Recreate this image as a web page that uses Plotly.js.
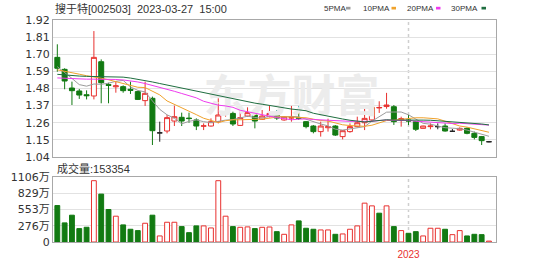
<!DOCTYPE html>
<html>
<head>
<meta charset="utf-8">
<script src="https://cdn.plot.ly/plotly-3.0.1.min.js"></script>
<style>
html,body{margin:0;padding:0;background:#fff;}
#chart{width:549px;height:262px;}
</style>
</head>
<body>
<div id="chart"></div>
<script>
// ---- data (weekly bars) ----
var weekDates = [
 '2022-01-17','2022-01-24','2022-02-07','2022-02-14','2022-02-21','2022-02-28','2022-03-07','2022-03-14','2022-03-21','2022-03-28',
 '2022-04-06','2022-04-11','2022-04-18','2022-04-25','2022-05-05','2022-05-09','2022-05-16','2022-05-23','2022-05-30','2022-06-06',
 '2022-06-13','2022-06-20','2022-06-27','2022-07-04','2022-07-11','2022-07-18','2022-07-25','2022-08-01','2022-08-08','2022-08-15',
 '2022-08-22','2022-08-29','2022-09-05','2022-09-13','2022-09-19','2022-09-26','2022-10-10','2022-10-17','2022-10-24','2022-10-31',
 '2022-11-07','2022-11-14','2022-11-21','2022-11-28','2022-12-05','2022-12-12','2022-12-19','2022-12-26','2023-01-03','2023-01-09',
 '2023-01-16','2023-01-30','2023-02-06','2023-02-13','2023-02-20','2023-02-27','2023-03-06','2023-03-13','2023-03-20','2023-03-27'
];
var openP = [
 1.680,1.603,1.483,1.464,1.440,1.432,1.652,1.505,1.491,1.492,
 1.475,1.460,1.402,1.417,1.195,1.207,1.271,1.295,1.290,1.278,
 1.238,1.239,1.267,1.325,1.320,1.243,1.303,1.310,1.282,1.299,
 1.310,1.278,1.290,1.293,1.267,1.239,1.203,1.228,1.239,1.171,
 1.203,1.235,1.260,1.278,1.355,1.364,1.363,1.278,1.278,1.267,
 1.224,1.235,1.235,1.239,1.205,1.213,1.224,1.192,1.171,1.138
];
var highP = [
 1.764,1.610,1.524,1.477,1.468,1.849,1.667,1.517,1.524,1.500,
 1.524,1.466,1.524,1.428,1.267,1.310,1.370,1.325,1.325,1.288,
 1.256,1.288,1.417,1.374,1.331,1.342,1.359,1.320,1.342,1.368,
 1.342,1.303,1.368,1.368,1.271,1.245,1.267,1.286,1.245,1.213,
 1.256,1.299,1.352,1.406,1.398,1.452,1.374,1.299,1.310,1.271,
 1.241,1.256,1.256,1.256,1.220,1.230,1.230,1.203,1.175,1.143
];
var lowP = [
 1.588,1.475,1.374,1.413,1.410,1.410,1.385,1.385,1.453,1.453,
 1.445,1.406,1.368,1.117,1.138,1.192,1.239,1.239,1.260,1.213,
 1.213,1.235,1.256,1.299,1.239,1.239,1.299,1.224,1.278,1.295,
 1.278,1.273,1.267,1.278,1.224,1.192,1.171,1.203,1.175,1.153,
 1.196,1.230,1.213,1.267,1.323,1.350,1.246,1.235,1.245,1.207,
 1.222,1.218,1.218,1.203,1.203,1.209,1.186,1.153,1.117,1.134
];
var closeP = [
 1.610,1.528,1.466,1.438,1.434,1.680,1.517,1.500,1.497,1.466,
 1.468,1.410,1.449,1.209,1.195,1.293,1.299,1.271,1.287,1.239,
 1.240,1.267,1.310,1.331,1.252,1.293,1.325,1.271,1.303,1.320,
 1.290,1.299,1.293,1.289,1.235,1.203,1.239,1.235,1.181,1.209,
 1.235,1.260,1.288,1.359,1.358,1.374,1.267,1.286,1.271,1.218,
 1.239,1.239,1.235,1.207,1.205,1.224,1.192,1.166,1.145,1.138
];
var ma5 = [
 1.620,1.585,1.545,1.505,1.495,1.509,1.507,1.514,1.526,1.532,
 1.490,1.468,1.458,1.400,1.346,1.311,1.289,1.253,1.269,1.278,
 1.267,1.261,1.269,1.277,1.280,1.291,1.302,1.294,1.289,1.302,
 1.302,1.297,1.301,1.298,1.281,1.264,1.252,1.240,1.219,1.213,
 1.220,1.224,1.235,1.270,1.300,1.328,1.329,1.329,1.311,1.283,
 1.256,1.251,1.240,1.228,1.225,1.222,1.213,1.199,1.186,1.173
];
var ma10 = [
 1.600,1.592,1.582,1.572,1.562,1.556,1.546,1.536,1.525,1.514,
 1.499,1.488,1.486,1.463,1.439,1.400,1.379,1.356,1.335,1.312,
 1.289,1.275,1.261,1.273,1.279,1.279,1.282,1.282,1.283,1.291,
 1.296,1.299,1.298,1.294,1.292,1.283,1.274,1.271,1.258,1.247,
 1.242,1.238,1.237,1.244,1.257,1.274,1.277,1.282,1.291,1.292,
 1.292,1.290,1.285,1.270,1.254,1.239,1.232,1.220,1.207,1.199
];
var ma20 = [
 1.548,1.545,1.542,1.541,1.540,1.540,1.540,1.540,1.538,1.535,
 1.530,1.522,1.512,1.500,1.490,1.476,1.462,1.448,1.434,1.420,
 1.398,1.383,1.373,1.368,1.359,1.340,1.330,1.319,1.309,1.302,
 1.293,1.287,1.279,1.283,1.285,1.281,1.278,1.276,1.271,1.269,
 1.269,1.269,1.268,1.269,1.274,1.278,1.275,1.276,1.275,1.270,
 1.267,1.264,1.261,1.257,1.255,1.257,1.254,1.251,1.249,1.245
];
var ma30 = [
 1.571,1.566,1.562,1.560,1.558,1.557,1.556,1.556,1.555,1.553,
 1.547,1.540,1.532,1.522,1.512,1.502,1.493,1.485,1.475,1.463,
 1.455,1.445,1.436,1.425,1.416,1.405,1.396,1.386,1.379,1.371,
 1.362,1.354,1.348,1.343,1.337,1.321,1.311,1.303,1.292,1.284,
 1.276,1.271,1.265,1.270,1.276,1.279,1.277,1.278,1.277,1.277,
 1.277,1.276,1.273,1.269,1.268,1.265,1.261,1.257,1.252,1.246
];
// volume in 万
var volume = [
 620,325,456,228,251,1043,815,553,439,291,
 217,194,319,456,103,336,336,262,159,274,
 274,239,1043,439,262,250,257,228,250,255,
 176,131,291,359,234,217,205,205,131,137,
 217,274,661,615,490,615,262,194,148,176,
 103,234,234,217,125,194,103,131,125,15.3354
];
// 1 = rising (red hollow), 0 = falling (green)
var volumeUp = [
 0,0,0,0,0,1,0,0,1,0,
 0,0,1,0,1,1,1,0,0,0,
 1,1,1,1,0,1,1,0,1,1,
 0,1,1,0,0,0,1,1,0,1,
 1,1,1,1,0,1,0,1,0,0,
 1,1,1,0,1,1,0,0,0,1
];
var priceTicks = [1.04,1.15,1.26,1.37,1.48,1.59,1.70,1.81,1.92];
var volTickVals = [0,276.5,553,829.5,1106];
var volTickText = ['0','276万','553万','829万','1106万'];
var titleText = '搜于特[002503]\u00a0\u00a02023-03-27\u00a0\u00a015:00';
var volLabel = '成交量:153354';
var yearLabel = '2023';
var yearStart = '2023-01-03';
var maNames = ['5PMA','10PMA','20PMA','30PMA'];
var watermarkText = '东方财富';

// ---- styling ----
var RED = '#e8312f', GREEN = '#127a12', BLACK = '#222222';
var maColors = ['#9c9c9c','#f0a22c','#ee3cee','#1f6e40'];
var BORDER = '#a8a8a8', GRID = '#e2e2e2';

function pick(arr, idx){ return idx.map(function(i){return arr[i];}); }
var idx = weekDates.map(function(d,i){return i;});
var upIdx = idx.filter(function(i){return closeP[i] > openP[i];});
var dnIdx = idx.filter(function(i){return closeP[i] < openP[i];});
var flatIdx = idx.filter(function(i){return closeP[i] === openP[i];});

function candle(ids, incColor, incFill, decColor, decFill){
  return {
    type:'candlestick', x:pick(weekDates,ids), open:pick(openP,ids), high:pick(highP,ids),
    low:pick(lowP,ids), close:pick(closeP,ids), xaxis:'x', yaxis:'y',
    increasing:{line:{color:incColor,width:1}, fillcolor:incFill},
    decreasing:{line:{color:decColor,width:1}, fillcolor:decFill},
    whiskerwidth:0, hoverinfo:'skip', showlegend:false
  };
}

var traces = [];
// watermark (drawn beneath MA lines)
traces.push({type:'scatter', mode:'text', x:[weekDates[32]], y:[1.40], text:[watermarkText],
  textfont:{family:'Noto Sans CJK SC', size:44, color:'#ececec', weight:700},
  xaxis:'x', yaxis:'y', hoverinfo:'skip', showlegend:false, cliponaxis:false});
traces.push(candle(upIdx, RED, '#ffffff', RED, '#ffffff'));
traces.push(candle(dnIdx, GREEN, GREEN, GREEN, GREEN));
traces.push(candle(flatIdx, BLACK, BLACK, BLACK, BLACK));
[ma5, ma10, ma20, ma30].forEach(function(m,k){
  traces.push({type:'scatter', mode:'lines', x:weekDates, y:m, xaxis:'x', yaxis:'y',
    line:{color:maColors[k], width:1}, hoverinfo:'skip', showlegend:false, name:maNames[k]});
});
var vUp = idx.filter(function(i){return volumeUp[i]===1;});
var vDn = idx.filter(function(i){return volumeUp[i]===0;});
traces.push({type:'bar', x:pick(weekDates,vUp), y:pick(volume,vUp), xaxis:'x2', yaxis:'y2', width:0.66,
  marker:{color:'#ffffff', line:{color:RED, width:1}}, hoverinfo:'skip', showlegend:false});
traces.push({type:'bar', x:pick(weekDates,vDn), y:pick(volume,vDn), xaxis:'x2', yaxis:'y2', width:0.66,
  marker:{color:GREEN, line:{color:GREEN, width:1}}, hoverinfo:'skip', showlegend:false});

var W = 549, H = 262, L = 53, R = 53, T = 20, B = 20;
var pw = W - L - R, ph = H - T - B;
function px(x){ return (x - L) / pw; }
function py(y){ return (H - B - y) / ph; }

var annotations = [
  {xref:'paper', yref:'paper', x:px(53), y:py(8), xanchor:'left', yanchor:'middle', showarrow:false,
   text:titleText, font:{family:'Liberation Sans, Arial, Noto Sans CJK SC', size:11, color:'#333'}},
  {xref:'paper', yref:'paper', x:px(55), y:py(168), xanchor:'left', yanchor:'middle', showarrow:false,
   text:volLabel, font:{family:'Liberation Sans, Arial, Noto Sans CJK SC', size:11, color:'#333'}}
];
var legendX = [321.5, 361, 404.5, 448.5];
var dashX = [346, 391.5, 436, 481.5];
var shapes = [];
maNames.forEach(function(n,k){
  annotations.push({xref:'paper', yref:'paper', x:px(legendX[k]), y:py(8.5), xanchor:'left', yanchor:'middle',
    showarrow:false, text:n, font:{family:'Liberation Sans, Arial', size:8, color:'#333'}});
  shapes.push({type:'rect', xref:'paper', yref:'paper', x0:px(dashX[k]), x1:px(dashX[k]+4.5),
    y0:py(9.5), y1:py(6.8), fillcolor:maColors[k], line:{width:0}});
});
shapes.push({type:'line', xref:'x', yref:'y domain', x0:yearStart, x1:yearStart, y0:0, y1:1,
  line:{color:'#cfcfcf', width:1.5, dash:'dot'}, layer:'below'});
shapes.push({type:'line', xref:'x2', yref:'y2 domain', x0:yearStart, x1:yearStart, y0:0, y1:1,
  line:{color:'#cfcfcf', width:1.5, dash:'dot'}, layer:'below'});

var tickFont = {family:'DejaVu Sans, Noto Sans CJK SC', size:11, color:'#333'};
var xr = [-0.59, 59.96];
var layout = {
  width:W, height:H, margin:{l:L, r:R, t:T, b:B, pad:0},
  paper_bgcolor:'#ffffff', plot_bgcolor:'#ffffff', showlegend:false,
  barmode:'overlay', boxgap:0.32, boxgroupgap:0,
  xaxis:{type:'category', categoryorder:'array', categoryarray:weekDates, range:xr, domain:[0,1], anchor:'y',
    showticklabels:false, showgrid:false, zeroline:false, showline:true, mirror:true, linecolor:BORDER, linewidth:1,
    ticks:'', rangeslider:{visible:false}, fixedrange:true},
  yaxis:{domain:[py(157), 1], range:[1.04,1.92], tickvals:priceTicks,
    ticktext:priceTicks.map(function(v){return v.toFixed(2);}), showgrid:true, gridcolor:GRID, gridwidth:1,
    zeroline:false, showline:true, mirror:true, linecolor:BORDER, linewidth:1, ticks:'', tickfont:tickFont,
    anchor:'x', fixedrange:true},
  xaxis2:{type:'category', categoryorder:'array', categoryarray:weekDates, range:xr, domain:[0,1], anchor:'y2',
    matches:'x', tickvals:[yearStart], ticktext:[yearLabel], tickfont:{family:'Liberation Sans, Arial', size:10, color:RED},
    showgrid:false, zeroline:false, showline:true, mirror:true, linecolor:BORDER, linewidth:1, ticks:'',
    ticklabelstandoff:3, fixedrange:true},
  yaxis2:{domain:[0, py(177)], range:[0,1106], tickvals:volTickVals, ticktext:volTickText,
    showgrid:true, gridcolor:GRID, gridwidth:1, zeroline:false, showline:true, mirror:true, linecolor:BORDER,
    linewidth:1, ticks:'', tickfont:tickFont, anchor:'x2', fixedrange:true},
  annotations:annotations, shapes:shapes
};
Plotly.newPlot('chart', traces, layout, {staticPlot:true, displayModeBar:false});
</script>
</body>
</html>
